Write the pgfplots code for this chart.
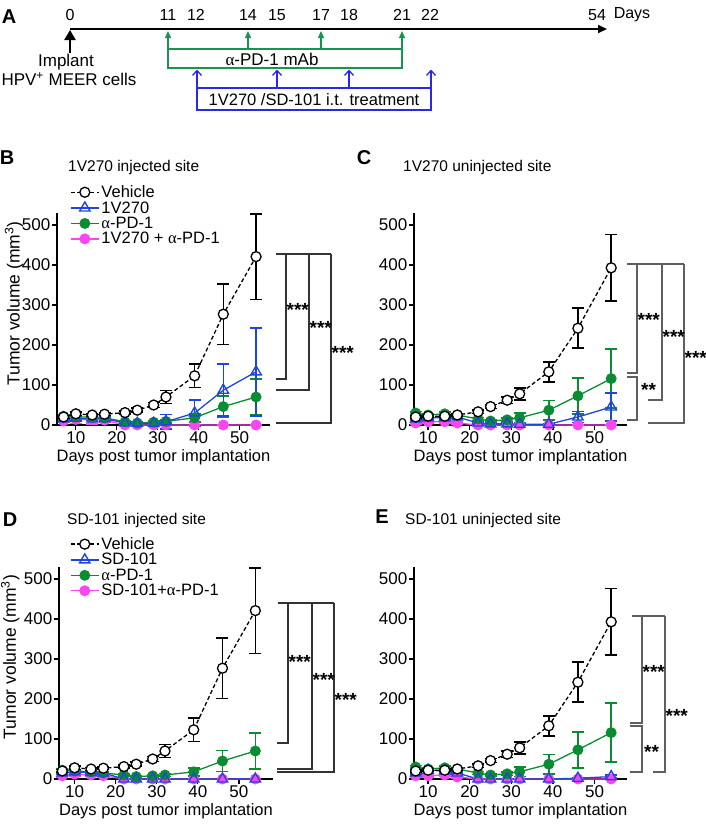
\documentclass[border=0pt]{standalone}
\usepackage{fontspec}
\setmainfont{Liberation Sans}
\newfontfamily\symf{Liberation Serif}
\usepackage{pgfplots}
\usepackage{pgfplotstable}
\pgfplotsset{compat=1.18}
\usetikzlibrary{arrows.meta}

\definecolor{cblue}{RGB}{30,70,220}
\definecolor{cgreen}{RGB}{10,140,50}
\definecolor{cmag}{RGB}{250,70,240}
\definecolor{bgray}{RGB}{95,95,95}
\definecolor{tlgreen}{RGB}{20,150,80}
\definecolor{tlblue}{RGB}{40,40,230}

\pgfplotstableread{
day veh vehe trt trte pd pde co coe
7 20 4 15 3 22 3 10 3
10 28 4 17 4 20 4 14 10
14 25 4 15 4 20 3 14 12
17 27 3 16 4 18 3 12 5
22 31 4 5 2 8 3 0 0
25 37 5 4 2 5 2 0 0
29 50 6 4 2 7 3 0 0
32 70 16 8 18 9 4 0 0
39 123 29 30 32 18 10 0 0
46 277 76 87 65 46 26 0 0
54 421 107 133 110 70 45 0 0
}\tabB

\pgfplotstableread{
day veh vehe trt trte pd pde co coe
7 20 3 15 3 30 4 5 3
10 22 3 18 3 25 4 8 3
14 22 3 18 3 28 4 8 3
17 25 3 20 3 25 4 5 3
22 33 4 5 2 15 4 0 0
25 46 5 3 2 10 3 0 0
29 62 8 3 2 13 4 0 0
32 78 15 2 2 18 12 0 0
39 133 25 2 2 37 24 0 0
46 242 50 20 14 73 45 0 0
54 393 83 45 35 116 74 0 0
}\tabC

\pgfplotstableread{
day veh vehe trt trte pd pde co coe
7 20 4 15 3 22 3 8 3
10 28 4 18 4 20 4 12 4
14 25 4 16 4 18 3 10 4
17 27 3 15 4 15 3 8 3
22 31 4 0 0 10 3 0 0
25 37 5 0 0 6 2 0 0
29 50 6 0 0 8 3 0 0
32 70 16 0 0 10 4 0 0
39 123 29 0 0 18 10 0 0
46 277 76 0 0 45 26 0 0
54 421 107 0 0 70 45 0 0
}\tabD

\pgfplotstableread{
day veh vehe trt trte pd pde co coe
7 20 3 15 3 30 4 8 3
10 22 3 22 3 25 4 8 3
14 22 3 20 3 28 4 10 3
17 25 3 15 3 25 4 5 3
22 33 4 0 0 15 4 0 0
25 46 5 0 0 10 3 0 0
29 62 8 0 0 13 4 0 0
32 78 15 0 0 18 12 0 0
39 133 25 0 0 37 24 0 0
46 242 50 2 2 73 45 0 0
54 393 83 6 4 116 74 0 0
}\tabE

\pgfplotsset{
  gp/.style={
    scale only axis, height=212pt,
    axis x line*=bottom, axis y line*=left,
    ymin=0, ymax=530,
    xtick={10,20,30,40,50}, ytick={0,100,200,300,400,500},
    tick align=outside, major tick length=5pt,
    tick style={black, line width=1.3pt},
    axis line style={black, line width=1.5pt},
    tick label style={font=\fontsize{17}{17}\selectfont, inner sep=1.5pt},
    /pgf/number format/assume math mode=true,
    clip=false,
    xlabel={Days post tumor implantation},
    xlabel style={font=\fontsize{16.5}{18}\selectfont, at={(axis description cs:0.5,-0.151)}, anchor=center},
    ylabel style={font=\fontsize{17.5}{18}\selectfont, anchor=center},
    legend style={draw=none, fill=none, font=\fontsize{16.5}{18}\selectfont, legend cell align=left, inner sep=0pt, row sep=-1.5pt, anchor=north west},
    legend image code/.code={\draw[mark repeat=2,mark phase=2,##1] plot coordinates {(0pt,0pt) (14pt,0pt) (28pt,0pt)};},
    reverse legend,
  },
  errs/.style={error bars/.cd, y dir=both, y explicit, error bar style={solid, line width=1.5pt}, error mark options={rotate=90, mark size=6pt, line width=1.5pt, solid}},
  veh/.style={black, line width=1.3pt, dash pattern=on 4pt off 2.5pt, mark=*, mark size=5pt, mark options={solid, fill=white, draw=black, line width=1.3pt}},
  trt/.style={cblue, line width=1.3pt, mark=triangle, mark size=6pt, mark options={solid, draw=cblue, line width=1.4pt, fill=none}},
  pdd/.style={cgreen, line width=1.3pt, mark=*, mark size=4.8pt, mark options={solid, fill=cgreen, draw=cgreen}},
  co/.style={cmag, line width=1.3pt, mark=*, mark size=4.8pt, mark options={solid, fill=cmag, draw=cmag}},
}

\begin{document}
\begin{tikzpicture}
\path[use as bounding box] (0,0) rectangle (706pt,-825pt);

% ---------- Panel B
\begin{axis}[gp, at={(57pt,-425pt)}, anchor=south west, width=213pt, xmin=5.4, xmax=57.4,
  ylabel={Tumor volume (mm\textsuperscript{3})},
  ylabel style={at={(axis description cs:-0.202,0.573)}},
  legend style={at={(axis description cs:0.061,1.14)}}]
\addplot[co, errs] table[x=day, y=co, y error=coe] {\tabB};
\addlegendentry{1V270 + {\symf α}-PD-1}
\addplot[pdd, errs] table[x=day, y=pd, y error=pde] {\tabB};
\addlegendentry{{\symf α}-PD-1}
\addplot[trt, errs] table[x=day, y=trt, y error=trte] {\tabB};
\addlegendentry{1V270}
\addplot[veh, errs] table[x=day, y=veh, y error=vehe] {\tabB};
\addlegendentry{Vehicle}
\end{axis}

% ---------- Panel C
\begin{axis}[gp, at={(414pt,-425pt)}, anchor=south west, width=213pt, xmin=6.6, xmax=57.8]
\addplot[co, errs] table[x=day, y=co, y error=coe] {\tabC};
\addplot[pdd, errs] table[x=day, y=pd, y error=pde] {\tabC};
\addplot[trt, errs] table[x=day, y=trt, y error=trte] {\tabC};
\addplot[veh, errs] table[x=day, y=veh, y error=vehe] {\tabC};
\end{axis}

% ---------- Panel D
\begin{axis}[gp, at={(59pt,-779pt)}, anchor=south west, width=214pt, xmin=6.2, xmax=58.3,
  ylabel={Tumor volume (mm\textsuperscript{3})},
  ylabel style={at={(axis description cs:-0.228,0.575)}},
  legend style={at={(axis description cs:0.051,1.15)}}]
\addplot[co, errs] table[x=day, y=co, y error=coe] {\tabD};
\addlegendentry{SD-101+{\symf α}-PD-1}
\addplot[pdd, errs] table[x=day, y=pd, y error=pde] {\tabD};
\addlegendentry{{\symf α}-PD-1}
\addplot[trt, errs] table[x=day, y=trt, y error=trte] {\tabD};
\addlegendentry{SD-101}
\addplot[veh, errs] table[x=day, y=veh, y error=vehe] {\tabD};
\addlegendentry{Vehicle}
\end{axis}

% ---------- Panel E
\begin{axis}[gp, at={(414pt,-779pt)}, anchor=south west, width=213pt, xmin=6.6, xmax=57.8]
\addplot[co, errs] table[x=day, y=co, y error=coe] {\tabE};
\addplot[pdd, errs] table[x=day, y=pd, y error=pde] {\tabE};
\addplot[trt, errs] table[x=day, y=trt, y error=trte] {\tabE};
\addplot[veh, errs] table[x=day, y=veh, y error=vehe] {\tabE};
\end{axis}

\begin{scope}[x=1pt,y=-1pt]
% ---------- Panel A timeline
\node[font=\fontsize{20}{20}\selectfont\bfseries] at (9,17) {A};
\foreach \d/\xx in {0/70,11/168,12/196,14/248,15/277,17/321,18/349,21/402,22/430,54/597}
  \node[font=\fontsize{16}{16}\selectfont] at (\xx,15) {\d};
\node[font=\fontsize{16}{16}\selectfont] at (632,15) {Days};
\draw[line width=2.2pt, -{Triangle[length=9pt,width=8pt]}] (70,29) -- (607,29);
\draw[line width=2.4pt, -{Triangle[length=10pt,width=11pt]}] (70,53) -- (70,30);
\node[font=\fontsize{17}{18}\selectfont] at (66,62) {Implant};
\node[font=\fontsize{17}{18}\selectfont] at (69,79) {HPV\textsuperscript{+} MEER cells};
\draw[tlgreen, line width=1.3pt] (168,49) rectangle (402,68);
\foreach \xx in {168,248,321,402}
  \draw[tlgreen, line width=1.3pt, -{Triangle[length=7pt,width=6pt]}] (\xx,49) -- (\xx,31);
\node[font=\fontsize{17}{18}\selectfont] at (272,59.5) {{\symf α}-PD-1 mAb};
\draw[tlblue, line width=1.3pt] (197,88) rectangle (431,110);
\foreach \xx in {197,277,349,431}
  \draw[tlblue, line width=1.3pt, -{Straight Barb[length=5pt,width=9pt]}] (\xx,88) -- (\xx,69.5);
\node[font=\fontsize{16.5}{18}\selectfont] at (314,99.5) {1V270 /SD-101 i.t. treatment};

% ---------- Panel letters and titles
\node[font=\fontsize{20}{20}\selectfont\bfseries] at (7,158) {B};
\node[font=\fontsize{20}{20}\selectfont\bfseries] at (364,158) {C};
\node[font=\fontsize{20}{20}\selectfont\bfseries] at (10,520) {D};
\node[font=\fontsize{20}{20}\selectfont\bfseries] at (382,517) {E};
\node[font=\fontsize{15.5}{16}\selectfont, anchor=west, inner sep=0] at (68,167) {1V270 injected site};
\node[font=\fontsize{15.5}{16}\selectfont, anchor=west, inner sep=0] at (403,167) {1V270 uninjected site};
\node[font=\fontsize{15.5}{16}\selectfont, anchor=west, inner sep=0] at (67,520) {SD-101 injected site};
\node[font=\fontsize{15.5}{16}\selectfont, anchor=west, inner sep=0] at (405,520) {SD-101 uninjected site};

% ---------- Significance brackets
\tikzset{br/.style={line width=1.3pt, bgray}, st/.style={font=\fontsize{19}{19}\selectfont\bfseries, anchor=base west, inner sep=0}}
% B
\draw[br, black!80] (276,254) -- (331,254);
\draw[br, black!80] (286,254) -- (286,379) -- (276,379);
\draw[br, black!80] (309,254) -- (309,390) -- (276,390);
\draw[br, black!80] (331,254) -- (331,423) -- (276,423);
\node[st] at (286.5,316) {***};
\node[st] at (309.5,334) {***};
\node[st] at (331.5,359) {***};
% C
\draw[br] (627,264) -- (684,264);
\draw[br] (637,264) -- (637,373) -- (627,373);
\draw[br] (627,377) -- (637,377) -- (637,420) -- (627,420);
\draw[br] (662,264) -- (662,400) -- (648,400);
\draw[br] (684,264) -- (684,423) -- (648,423);
\node[st] at (637.5,326) {***};
\node[st] at (662.5,343) {***};
\node[st] at (684.5,364) {***};
\node[st] at (641,396) {**};
% D
\draw[br, black!80] (278,603) -- (334,603);
\draw[br, black!80] (288,603) -- (288,743) -- (277,743);
\draw[br, black!80] (312,603) -- (312,769) -- (277,769);
\draw[br, black!80] (334,603) -- (334,772) -- (277,772);
\node[st] at (288.5,668) {***};
\node[st] at (312.5,686) {***};
\node[st] at (334.5,706) {***};
% E
\draw[br] (632,616) -- (665,616);
\draw[br] (642,616) -- (642,723) -- (630,723);
\draw[br] (630,726) -- (642,726) -- (642,772) -- (630,772);
\draw[br] (665,616) -- (665,772) -- (653,772);
\node[st] at (642.5,678) {***};
\node[st] at (665.5,722) {***};
\node[st] at (644,758) {**};
\end{scope}
\end{tikzpicture}
\end{document}
